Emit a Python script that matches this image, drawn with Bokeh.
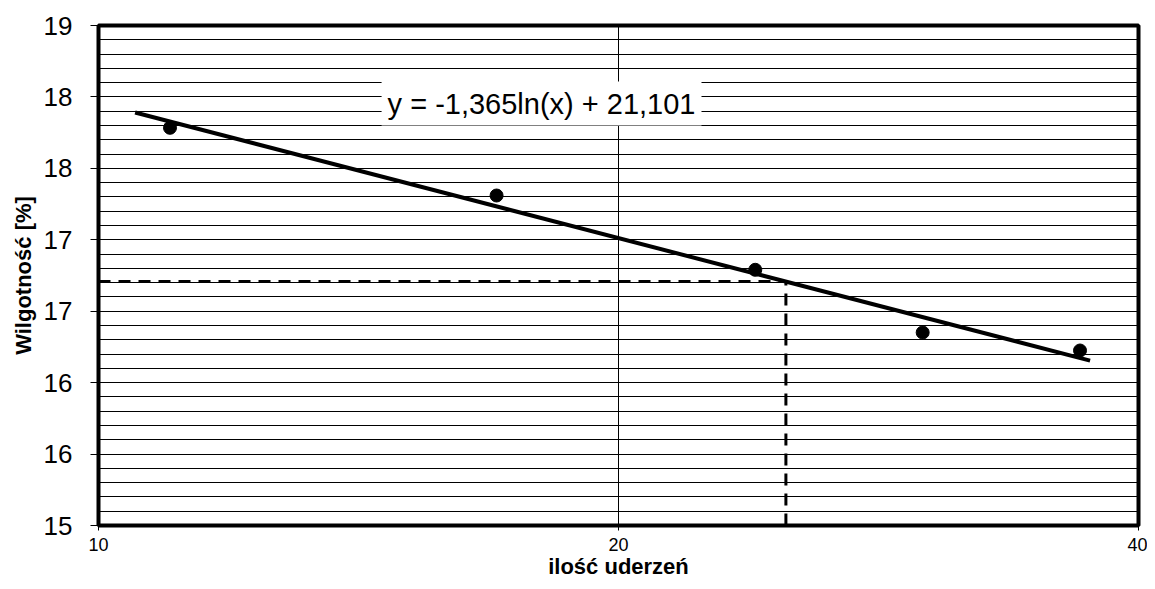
import numpy as np
from bokeh.plotting import figure
from bokeh.models import FixedTicker, Label, ColumnDataSource
from bokeh.embed import file_html
from bokeh.resources import INLINE

# ---- data ----
blows = [11, 17, 24, 30, 37]                      # ilość uderzeń
moisture = [17.784, 17.310, 16.790, 16.351, 16.225]  # Wilgotność [%]
trend_a = -1.365
trend_b = 21.101
trend_x = [10.5, 37.5]
read_blows = 25
equation = "y = -1,365ln(x) + 21,101"
x_title = "ilość uderzeń"
y_title = "Wilgotność [%]"
x_ticks = [10, 20, 40]
x_tick_labels = ["10", "20", "40"]
y_ticks = [15.0, 15.5, 16.0, 16.5, 17.0, 17.5, 18.0, 18.5]
y_tick_labels = ["15", "16", "16", "17", "17", "18", "18", "19"]

trend_y = [trend_a * np.log(x) + trend_b for x in trend_x]
read_moisture = trend_a * np.log(read_blows) + trend_b

FONT = "Liberation Sans"

p = figure(width=1147, height=581, x_axis_type="log", x_range=(10, 40), y_range=(15, 18.5),
           output_backend="svg", toolbar_location=None,
           min_border_left=98, min_border_right=9, min_border_top=25, min_border_bottom=56)

p.outline_line_color = "black"
p.outline_line_width = 4

# grid
p.xgrid.ticker = FixedTicker(ticks=[20])
p.xgrid.grid_line_color = "#000000"
p.xgrid.grid_line_width = 1
p.ygrid.ticker = FixedTicker(ticks=[round(15 + 0.1 * i, 1) for i in range(1, 35)])
p.ygrid.grid_line_color = "#000000"
p.ygrid.grid_line_width = 1

# axes
p.xaxis.ticker = FixedTicker(ticks=x_ticks, minor_ticks=[])
p.xaxis.major_label_overrides = {t: l for t, l in zip(x_ticks, x_tick_labels)}
p.yaxis.ticker = FixedTicker(ticks=y_ticks, minor_ticks=[])
p.yaxis.major_label_overrides = {t: l for t, l in zip(y_ticks, y_tick_labels)}
for ax in (p.xaxis[0], p.yaxis[0]):
    ax.axis_line_color = None
    ax.major_tick_line_color = "black"
    ax.major_tick_in = 0
    ax.minor_tick_line_color = None
    ax.major_label_text_font = FONT
    ax.major_label_text_color = "black"
    ax.axis_label_text_font = FONT
    ax.axis_label_text_font_style = "bold"
    ax.axis_label_text_font_size = "22px"
    ax.axis_label_text_color = "black"

p.xaxis.axis_label = x_title
p.xaxis.major_tick_out = 5
p.xaxis.major_label_standoff = 7
p.xaxis.major_label_text_font_size = "18px"
p.xaxis.axis_label_standoff = 0

p.yaxis.axis_label = y_title
p.yaxis.major_tick_out = 8
p.yaxis.major_label_standoff = 18
p.yaxis.major_label_text_font_size = "26px"
p.yaxis.axis_label_standoff = 5

# read-off dashed lines
p.line([x_ticks[0], read_blows], [read_moisture, read_moisture], line_color="black",
       line_width=3, line_dash="12 8")
p.line([read_blows, read_blows], [y_ticks[0], read_moisture], line_color="black",
       line_width=3, line_dash="12 8")

# trend line
p.line(trend_x, trend_y, line_color="black", line_width=4)

# data points
src = ColumnDataSource(data=dict(x=blows, y=moisture))
p.scatter("x", "y", source=src, size=13, fill_color="black", line_color="black")

# equation label
p.add_layout(Label(x=18.05, y=17.954, text=equation, text_align="center",
                   text_baseline="alphabetic", text_font=FONT, text_font_size="29px",
                   text_color="black", background_fill_color="white",
                   padding=6))

open("out.html", "w").write(file_html(p, INLINE))
